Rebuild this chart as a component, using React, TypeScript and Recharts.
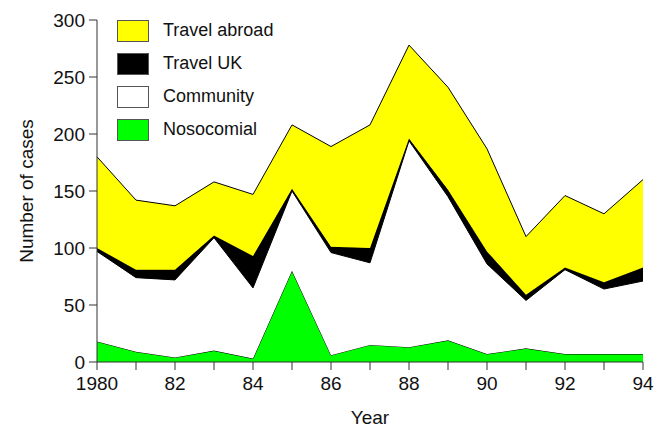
import { AreaChart, Area, XAxis, YAxis } from "recharts";

// Cases per year, by source of infection (stacked bottom to top).
const YEARS = [1980, 1981, 1982, 1983, 1984, 1985, 1986, 1987, 1988, 1989, 1990, 1991, 1992, 1993, 1994];
const NOSOCOMIAL = [18, 9, 4, 10, 3, 80, 6, 15, 13, 19, 7, 12, 7, 7, 7];
const COMMUNITY = [79, 65, 68, 99, 62, 70, 90, 72, 181, 126, 79, 42, 74, 57, 64];
const TRAVEL_UK = [3, 7, 9, 2, 28, 2, 5, 13, 2, 6, 11, 5, 2, 6, 12];
const TRAVEL_ABROAD = [80, 61, 56, 47, 54, 56, 88, 108, 82, 90, 90, 51, 63, 60, 77];
const Y_TICKS = [0, 50, 100, 150, 200, 250, 300];

const SERIES = [
  { key: "nosocomial", label: "Nosocomial", color: "#00ff00" },
  { key: "community", label: "Community", color: "#ffffff" },
  { key: "travelUK", label: "Travel UK", color: "#000000" },
  { key: "travelAbroad", label: "Travel abroad", color: "#ffff00" },
];

const data = YEARS.map((year, i) => ({
  year,
  nosocomial: NOSOCOMIAL[i],
  community: COMMUNITY[i],
  travelUK: TRAVEL_UK[i],
  travelAbroad: TRAVEL_ABROAD[i],
}));

const FONT = "'Liberation Sans', Arial, sans-serif";
const AXIS = "#333";

function yearLabel(v: number) {
  if (v % 2 !== 0) return "";
  return v === YEARS[0] ? String(v) : String(v).slice(2);
}

// Key drawn over the empty top-left corner of the plot, so it takes no room from the axes.
function KeyBox() {
  // reads top-down in the reverse of the stacking order
  const items = [...SERIES].reverse();
  return (
    <div style={{ position: "absolute", left: 117, top: 14 }}>
      {items.map((s) => (
        <div key={s.key} style={{ display: "flex", alignItems: "center", height: 33 }}>
          <div
            style={{
              width: 30,
              height: 20,
              background: s.color,
              border: "1px solid #555",
              marginRight: 14,
            }}
          />
          <span style={{ fontSize: 18, color: "#111", fontFamily: FONT }}>{s.label}</span>
        </div>
      ))}
    </div>
  );
}

export default function App() {
  return (
    <div style={{ position: "absolute", left: 0, top: 0, width: 664, height: 427, background: "#fff" }}>
      <AreaChart
        width={664}
        height={427}
        data={data}
        margin={{ top: 20, right: 21, left: 0, bottom: 0 }}
        style={{ fontFamily: FONT }}
      >
        <XAxis
          dataKey="year"
          type="number"
          domain={[1980, 1994]}
          ticks={YEARS}
          tickFormatter={yearLabel}
          interval={0}
          height={65}
          tickSize={8}
          tickMargin={7}
          stroke={AXIS}
          tick={{ fill: "#111", fontSize: 19 }}
          label={(p: any) => {
            const vb = p.viewBox;
            return (
              <text x={vb.x + vb.width / 2} y={vb.y + 62} textAnchor="middle" fontSize={19} fill="#111">
                Year
              </text>
            );
          }}
        />
        <YAxis
          domain={[0, 300]}
          ticks={Y_TICKS}
          width={97}
          tickSize={8}
          tickMargin={4}
          stroke={AXIS}
          tick={{ fill: "#111", fontSize: 19 }}
          label={(p: any) => {
            const vb = p.viewBox;
            const x = vb.x + 33;
            const y = vb.y + vb.height / 2;
            return (
              <text x={x} y={y} transform={`rotate(-90 ${x} ${y})`} textAnchor="middle" fontSize={19} fill="#111">
                Number of cases
              </text>
            );
          }}
        />
        {SERIES.map((s) => (
          <Area
            key={s.key}
            dataKey={s.key}
            stackId="a"
            type="linear"
            fill={s.color}
            fillOpacity={1}
            stroke="#000"
            strokeWidth={1}
            isAnimationActive={false}
          />
        ))}
      </AreaChart>
      <KeyBox />
    </div>
  );
}
